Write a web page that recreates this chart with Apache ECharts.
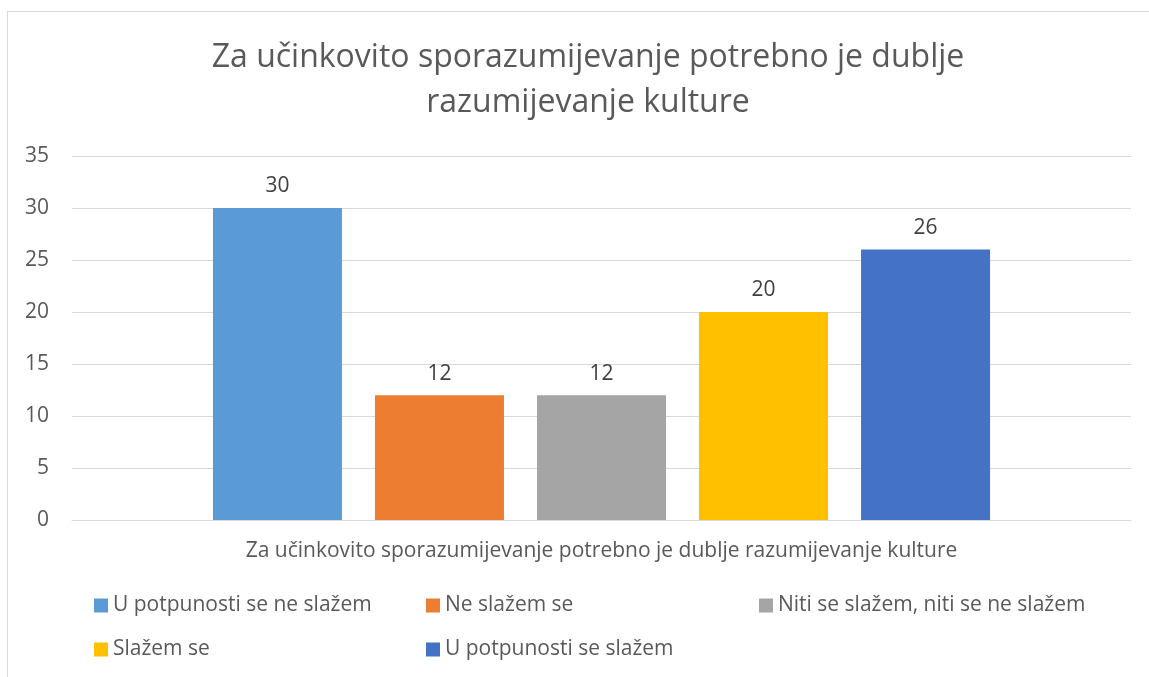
<!DOCTYPE html>
<html>
<head>
<meta charset="utf-8">
<script src="https://cdn.jsdelivr.net/npm/echarts@6/dist/echarts.min.js"></script>
<style>
  html, body { margin: 0; padding: 0; background: #fff; }
  #frame {
    position: absolute; left: 7px; top: 11px; right: 0; bottom: 0;
    border-top: 1px solid #d9d9d9; border-left: 1px solid #d9d9d9;
  }
  #chart { position: absolute; left: 0; top: 0; width: 1149px; height: 677px; }
</style>
</head>
<body>
<div id="frame"></div>
<div id="chart"></div>
<script>
const titleText = "Za učinkovito sporazumijevanje potrebno je dublje\nrazumijevanje kulture";
const categories = ["Za učinkovito sporazumijevanje potrebno je dublje razumijevanje kulture"];
const seriesNames = [
  "U potpunosti se ne slažem",
  "Ne slažem se",
  "Niti se slažem, niti se ne slažem",
  "Slažem se",
  "U potpunosti se slažem"
];
const seriesValues = [30, 12, 12, 20, 26];
const colors = ["#5b9bd5", "#ed7d31", "#a5a5a5", "#ffc000", "#4472c4"];

const font = "'Open Sans', sans-serif";
const textColor = "#595959";

// legend slots laid out like the Excel legend (two rows)
const legendSlots = [
  { left: 89, top: 590 },
  { left: 421, top: 590 },
  { left: 754, top: 590 },
  { left: 89, top: 634 },
  { left: 421, top: 634 }
];

const chart = echarts.init(document.getElementById("chart"));
chart.setOption({
  animation: false,
  color: colors,
  title: {
    text: titleText,
    left: 583,
    top: 30,
    textAlign: "center",
    textStyle: { fontFamily: font, fontSize: 32, fontWeight: "normal", color: textColor, lineHeight: 45 }
  },
  grid: { left: 72, right: 18, top: 156, bottom: 157 },
  xAxis: {
    type: "category",
    data: categories,
    axisTick: { show: false },
    axisLine: { lineStyle: { color: "#d9d9d9", width: 1 } },
    axisLabel: {
      fontFamily: font, fontSize: 21, color: textColor, margin: 21
    }
  },
  yAxis: {
    type: "value",
    min: 0,
    max: 35,
    interval: 5,
    axisLine: { show: false },
    axisTick: { show: false },
    splitLine: { lineStyle: { color: "#d9d9d9", width: 1 } },
    axisLabel: { fontFamily: font, fontSize: 21, color: textColor, margin: 23 }
  },
  legend: seriesNames.map((name, i) => ({
    data: [name],
    left: legendSlots[i].left,
    top: legendSlots[i].top,
    itemWidth: 14,
    itemHeight: 14,
    icon: "rect",
    textStyle: { fontFamily: font, fontSize: 21, color: textColor }
  })),
  series: seriesNames.map((name, i) => ({
    name: name,
    type: "bar",
    data: [seriesValues[i]],
    barWidth: 129,
    barGap: "25.6%",
    itemStyle: { color: colors[i] },
    label: {
      show: true,
      position: "top",
      distance: 11,
      fontFamily: font,
      fontSize: 21,
      color: "#404040"
    }
  }))
});
</script>
</body>
</html>
